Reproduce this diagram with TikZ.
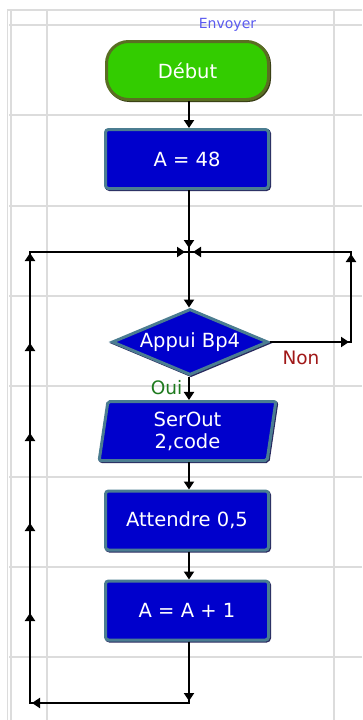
\documentclass[tikz,border=0pt]{standalone}
\usepackage{fontspec}
\setmainfont{DejaVu Sans}
\usetikzlibrary{shapes.geometric,arrows.meta}
\definecolor{gridc}{RGB}{220,220,220}
\definecolor{boxfill}{RGB}{0,0,204}
\definecolor{boxedge}{RGB}{75,125,145}
\definecolor{boxshadow}{RGB}{40,40,95}
\definecolor{startfill}{RGB}{51,204,0}
\definecolor{startedge}{RGB}{90,110,35}
\definecolor{startshadow}{RGB}{55,60,20}
\definecolor{nonc}{RGB}{160,24,24}
\definecolor{ouic}{RGB}{30,122,30}
\definecolor{envc}{RGB}{90,90,240}
\tikzset{
  gridline/.style={draw=gridc, line width=1.8pt},
  boxtext/.style={text=white, font=\fontsize{19.5}{22}\selectfont, align=center, inner sep=0pt},
  shadowed/.style={preaction={draw=#1, line width=3pt, transform canvas={shift={(1pt,-1pt)}}}},
  procbox/.style={boxtext, shape=rectangle, fill=boxfill, draw=boxedge, line width=3pt,
    rounded corners=3pt, minimum width=163pt, minimum height=59pt, shadowed=boxshadow},
  startbox/.style={boxtext, shape=rectangle, fill=startfill, draw=startedge, line width=3pt,
    rounded corners=22pt, minimum width=162pt, minimum height=58pt, shadowed=startshadow},
  decbox/.style={boxtext, shape=diamond, fill=boxfill, draw=boxedge, line width=3pt,
    aspect=2.3, minimum width=156pt, minimum height=66pt, shadowed=boxshadow},
  iobox/.style={boxtext, shape=trapezium, trapezium left angle=84.5, trapezium right angle=95.5,
    trapezium stretches=true, fill=boxfill, draw=boxedge, line width=3pt, rounded corners=2pt,
    minimum width=178pt, minimum height=59pt, shadowed=boxshadow},
  ln/.style={draw=black, line width=2pt},
  arr/.style={ln, -{Triangle[width=10pt,length=8pt]}},
}
\begin{document}
\begin{tikzpicture}[x=1pt,y=-1pt]
\useasboundingbox (0,0) rectangle (362,720);
\fill[white] (0,0) rectangle (362,720);
% grid
\draw[gridline] (7,10) -- (362,10);
\foreach \yy in {25,115,206,296,386,477,567,657} {\draw[gridline] (9,\yy) -- (362,\yy);}
\foreach \xx in {7.5,11,47,334} {\draw[gridline] (\xx,10) -- (\xx,720);}
% label
\node[text=envc, font=\fontsize{14}{16}\selectfont, inner sep=0pt] (env) at (227.5,24.5) {Envoyer};
% nodes
\node[startbox] (debut) at (187.5,70.5) {Début};
\node[procbox] (a48) at (187,159) {A = 48};
\node[decbox] (dia) at (190,342) {Appui Bp4};
\node[iobox] (ser) at (187.5,431) {SerOut\\2,code};
\node[procbox] (att) at (187,520.5) {Attendre 0,5};
\node[procbox] (inc) at (187,610.5) {A = A + 1};
\node[text=nonc, font=\fontsize{18.5}{20}\selectfont, inner sep=0pt] (non) at (301,357.5) {Non};
\node[text=ouic, font=\fontsize{18.5}{20}\selectfont, inner sep=0pt] (oui) at (166.5,388) {Oui};
% coordinates
\coordinate (J) at (189,252);
\coordinate (Jt) at (189,248);
\coordinate (Jl) at (185,252);
\coordinate (Jr) at (193,252);
\coordinate (B) at (189,703);
\coordinate (Bt) at (189,701);
\coordinate (L) at (30,703);
\coordinate (Lt) at (32,703);
\coordinate (L1) at (30,613);
\coordinate (L2) at (30,523);
\coordinate (L3) at (30,433);
\coordinate (L4) at (30,343);
\coordinate (L5) at (30,253);
\coordinate (LT) at (30,252);
\coordinate (R) at (351,342);
\coordinate (Rt) at (349,342);
\coordinate (RTt) at (351,254);
\coordinate (RT) at (351,252);
% connectors
\draw[arr] (debut.south -| J) -- (a48.north -| J);
\draw[ln] (a48.south -| J) -- (J);
\draw[arr] (a48.south -| J) -- (Jt);
\draw[arr] (J) -- (dia.north -| J);
\draw[arr] (dia.south -| J) -- (ser.north -| J);
\draw[arr] (ser.south -| J) -- (att.north -| J);
\draw[arr] (att.south -| J) -- (inc.north -| J);
% left loop
\draw[ln] (inc.south -| J) -- (B) -- (L) -- (LT) -- (J);
\draw[arr] (inc.south -| J) -- (Bt);
\draw[arr] (B) -- (Lt);
\draw[arr] (L) -- (L1);
\draw[arr] (L1) -- (L2);
\draw[arr] (L2) -- (L3);
\draw[arr] (L3) -- (L4);
\draw[arr] (L4) -- (L5);
\draw[arr] (LT) -- (Jl);
% right loop
\draw[ln] (dia.east) -- (R) -- (RT) -- (J);
\draw[arr] (dia.east) -- (Rt);
\draw[arr] (R) -- (RTt);
\draw[arr] (RT) -- (Jr);
\end{tikzpicture}
\end{document}
